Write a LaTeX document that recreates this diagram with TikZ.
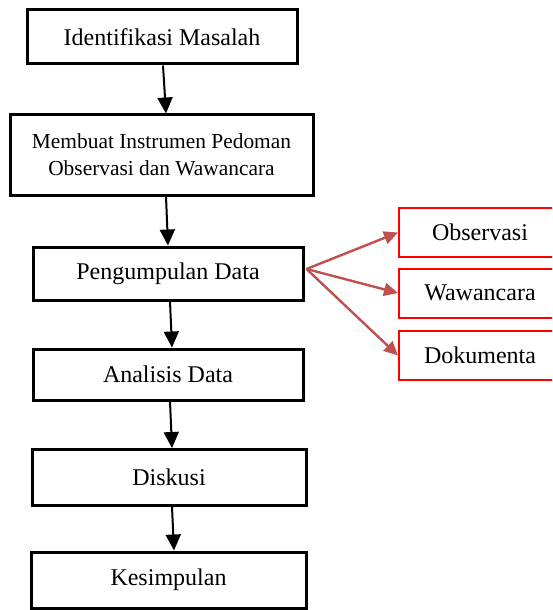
\documentclass[tikz,border=0pt]{standalone}
\usepackage{fontspec}
\setmainfont{Liberation Serif}
\usepackage{xcolor}
\usetikzlibrary{positioning,calc,arrows.meta}
\definecolor{linkred}{HTML}{C0504D}

\begin{document}
\begin{tikzpicture}[x=0.5pt, y=-0.5pt,
    stepbox/.style={draw=black, line width=1.5pt, minimum width=135pt, minimum height=27pt, inner sep=0pt, align=center, font=\fontsize{12}{14}\selectfont},
    methodbox/.style={draw=red, line width=1pt, minimum width=81pt, minimum height=24.5pt, inner sep=0pt, font=\fontsize{12}{14}\selectfont},
    flow/.style={line width=1pt, -{Triangle[width=7.5pt,length=8pt]}},
    branch/.style={draw=linkred, line width=1.2pt, -{Triangle[width=6.5pt,length=7pt]}}]
    \clip (0,0) rectangle (552,610);

    % Main steps
    \node[stepbox] (ident) at (162,37) {Identifikasi Masalah};
    \node[stepbox, minimum width=151.5pt, minimum height=40pt, font=\fontsize{10.7}{13.5}\selectfont] (instr) at (161.5,155) {Membuat Instrumen Pedoman\\Observasi dan Wawancara};
    \node[stepbox, minimum height=26.5pt] (kumpul) at (168,273.5) {Pengumpulan Data};
    \node[stepbox, minimum height=25.5pt] (analisis) at (168,374.5) {Analisis Data};
    \node[stepbox, minimum width=137pt, minimum height=28pt] (diskusi) at (169,477.5) {Diskusi};
    \node[stepbox, minimum width=137.5pt, minimum height=28pt] (simpul) at (168.5,580) {Kesimpulan};

    \foreach \a/\b/\s/\e in {ident/instr/0.5/2.25, instr/kumpul/2.25/0, kumpul/analisis/1/2, analisis/diskusi/1/1.5, diskusi/simpul/1.5/2.75}
        \draw[flow] ([xshift=\s pt]\a.south) -- ([xshift=\e pt]\b.north);

    % Data collection methods
    \foreach \y/\name/\label in {232.5/obs/Observasi, 293/waw/Wawancara, 355.5/dok/Dokumenta}
        \node[methodbox] (\name) at (480,\y) {\label};

    \foreach \name in {obs, waw, dok}
        \draw[branch] ([xshift=1pt,yshift=2.25pt]kumpul.east) -- (\name.west);
\end{tikzpicture}
\end{document}
